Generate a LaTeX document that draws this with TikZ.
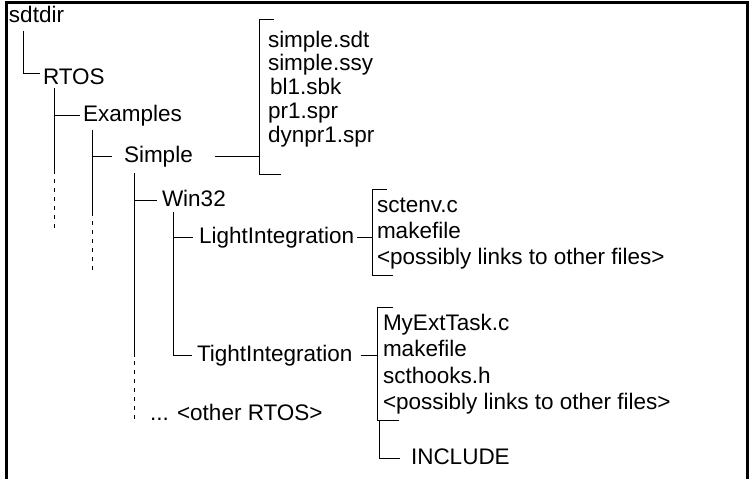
\documentclass[tikz,border=0pt]{standalone}
\usepackage{fontspec}
\setmainfont{Liberation Sans}
\begin{document}
\begin{tikzpicture}[x=1pt,y=-1pt,
    entry/.style={anchor=base west,inner sep=3pt,outer sep=0pt,text height=16pt,text depth=4pt,
        font=\fontsize{22.5}{26}\selectfont},
    link/.style={line width=0.9pt},
    dotlink/.style={line width=0.9pt,dash pattern=on 4pt off 5pt}]
    \useasboundingbox (0,0) rectangle (750,479);
    \draw[line width=2.2pt] (6.5,479) -- (6.5,2.5) -- (747.5,2.5) -- (747.5,479);

    % directories
    \node[entry] (sdtdir) at (6,23) {sdtdir};
    \node[entry] (rtos) at (40,84) {RTOS};
    \node[entry] (examples) at (80,121) {Examples};
    \node[entry] (simple) at (121,162) {Simple};
    \node[entry] (win32) at (159,206) {Win32};
    \node[entry] (light) at (196,243) {LightIntegration};
    \node[entry] (tight) at (194,361) {TightIntegration};
    \node[entry] (other) at (147,420) {... <other RTOS>};
    \node[entry] (include) at (408,464) {INCLUDE};

    % files of Simple
    \node[entry] (sf1) at (265,47) {simple.sdt};
    \node[entry] (sf2) at (265,70) {simple.ssy};
    \node[entry] (sf3) at (267,94) {bl1.sbk};
    \node[entry] (sf4) at (265,118) {pr1.spr};
    \node[entry] (sf5) at (265,142) {dynpr1.spr};

    % files of LightIntegration
    \node[entry] (lf1) at (374,212) {sctenv.c};
    \node[entry] (lf2) at (374,238) {makefile};
    \node[entry] (lf3) at (374,264) {<possibly links to other files>};

    % files of TightIntegration
    \node[entry] (tf1) at (380,330) {MyExtTask.c};
    \node[entry] (tf2) at (380,356) {makefile};
    \node[entry] (tf3) at (380,383) {scthooks.h};
    \node[entry] (tf4) at (380,409) {<possibly links to other files>};

    % brackets
    \coordinate (sbtop) at (259,19);
    \coordinate (sbbot) at (259,174);
    \coordinate (lbtop) at (372,189);
    \coordinate (lbbot) at (372,275);
    \coordinate (tbtop) at (377,307);
    \coordinate (tbbot) at (377,420);
    \draw[link] ([xshift=15pt]sbtop) -- (sbtop) -- (sbbot) -- ([xshift=22pt]sbbot);
    \draw[link] ([xshift=15pt]lbtop) -- (lbtop) -- (lbbot) -- ([xshift=21pt]lbbot);
    \draw[link] ([xshift=16pt]tbtop) -- (tbtop) -- (tbbot) -- ([xshift=22pt]tbbot);

    % tree lines
    \draw[link] ([xshift=17pt,yshift=-8pt]sdtdir.base west) |- ([yshift=5pt]rtos.west);
    \draw[link] ([xshift=14pt,yshift=-4pt]rtos.base west) -- ++(0,82) coordinate (rtosdash);
    \draw[dotlink] (rtosdash) -- ++(0,58);
    \draw[link] (rtosdash |- examples.west) -- (examples.west);
    \draw[link] ([xshift=12pt,yshift=-9pt]examples.base west) -- ++(0,82) coordinate (exdash);
    \draw[dotlink] (exdash) -- ++(0,58);
    \draw[link] (exdash |- simple.west) -- ([xshift=-9pt]simple.west);
    \draw[link] ([xshift=13pt,yshift=-11pt]simple.base west) -- ++(0,184) coordinate (simdash);
    \draw[dotlink] ([yshift=-4pt]simdash) -- ++(0,60);
    \draw[link] (simdash |- win32.west) -- ([xshift=-2pt]win32.west);
    \draw[link] ([xshift=14pt,yshift=-6pt]win32.base west) |- ([xshift=-2pt]tight.west);
    \draw[link] ([xshift=14pt]win32.base west |- light.west) -- ([xshift=-3pt]light.west);

    % links to the file lists
    \draw[link] ([xshift=19pt]simple.east) -- (simple.east -| sbtop);
    \draw[link] (light.east) -- (light.east -| lbtop);
    \draw[link] ([xshift=5pt]tight.east) -- (tight.east -| tbtop);
    \draw[link] ([xshift=2pt,yshift=-1pt]tbbot) |- ([xshift=-8pt]include.west);
\end{tikzpicture}
\end{document}
